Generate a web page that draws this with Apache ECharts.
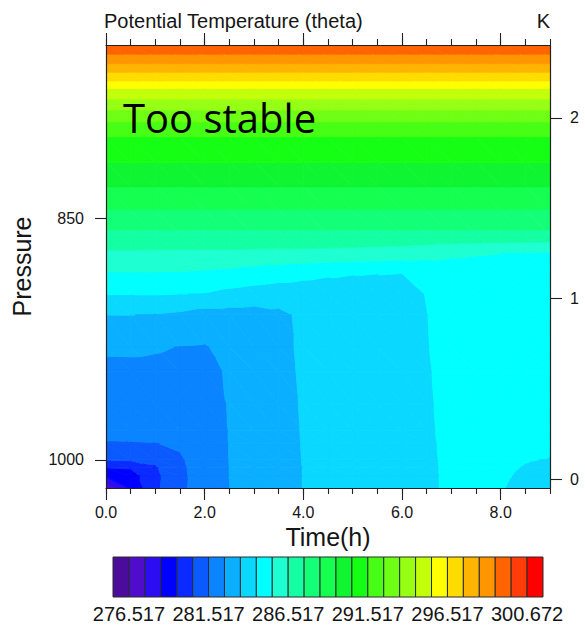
<!DOCTYPE html>
<html>
<head>
<meta charset="utf-8">
<title>Potential Temperature (theta)</title>
<script src="https://cdn.jsdelivr.net/npm/echarts@6/dist/echarts.min.js"></script>
<style>
  html, body { margin: 0; padding: 0; background: #ffffff; }
  #chart { width: 585px; height: 626px; }
</style>
</head>
<body>
<div id="chart"></div>
<script>
// Output times (h)
const times = [0, 0.5, 1, 1.5, 2, 2.5, 3, 3.5, 4, 4.5, 5, 5.5, 6, 6.5, 7, 7.5, 8, 8.5, 9];

// Pressure levels (hPa), from the top of the domain down to the surface
const pressures = [742.5, 750, 760, 770, 780, 790, 800, 815, 830, 845, 860, 872,
                   884, 897, 910, 930, 945, 965, 982, 990, 1000, 1005, 1010, 1017.5];

// Potential temperature (K): one row per pressure level, one value per output time
const theta = [
  [300.45, 300.45, 300.45, 300.45, 300.45, 300.45, 300.45, 300.45, 300.45, 300.45, 300.45, 300.45, 300.45, 300.45, 300.45, 300.45, 300.45, 300.45, 300.45],
  [299.24, 299.24, 299.24, 299.24, 299.24, 299.24, 299.24, 299.24, 299.24, 299.24, 299.24, 299.24, 299.24, 299.24, 299.24, 299.24, 299.24, 299.24, 299.24],
  [297.47, 297.47, 297.47, 297.47, 297.47, 297.47, 297.47, 297.47, 297.47, 297.47, 297.47, 297.47, 297.47, 297.47, 297.47, 297.47, 297.47, 297.47, 297.47],
  [295.48, 295.48, 295.48, 295.48, 295.48, 295.48, 295.48, 295.48, 295.48, 295.48, 295.48, 295.48, 295.48, 295.48, 295.48, 295.48, 295.48, 295.48, 295.48],
  [293.90, 293.90, 293.90, 293.90, 293.90, 293.90, 293.90, 293.90, 293.90, 293.90, 293.90, 293.90, 293.90, 293.90, 293.90, 293.90, 293.90, 293.90, 293.90],
  [292.54, 292.54, 292.54, 292.54, 292.54, 292.54, 292.54, 292.54, 292.54, 292.54, 292.54, 292.54, 292.54, 292.54, 292.54, 292.54, 292.54, 292.54, 292.54],
  [291.49, 291.49, 291.49, 291.49, 291.49, 291.49, 291.49, 291.49, 291.49, 291.49, 291.49, 291.49, 291.49, 291.49, 291.49, 291.49, 291.49, 291.49, 291.49],
  [290.56, 290.56, 290.56, 290.56, 290.56, 290.56, 290.56, 290.56, 290.56, 290.56, 290.56, 290.56, 290.56, 290.56, 290.56, 290.56, 290.56, 290.56, 290.56],
  [289.56, 289.56, 289.56, 289.56, 289.56, 289.56, 289.56, 289.56, 289.56, 289.56, 289.56, 289.56, 289.56, 289.56, 289.56, 289.56, 289.56, 289.56, 289.56],
  [288.51, 288.51, 288.51, 288.51, 288.51, 288.51, 288.51, 288.51, 288.51, 288.51, 288.51, 288.51, 288.51, 288.51, 288.51, 288.51, 288.51, 288.51, 288.51],
  [287.30, 287.30, 287.30, 287.30, 287.30, 287.30, 287.30, 287.30, 287.30, 287.30, 287.30, 287.30, 287.30, 287.30, 287.30, 287.30, 287.30, 287.30, 287.30],
  [286.33, 286.33, 286.32, 286.32, 286.31, 286.30, 286.28, 286.26, 286.24, 286.20, 286.15, 286.08, 286.00, 285.88, 285.70, 285.60, 285.52, 285.42, 285.34],
  [285.50, 285.50, 285.49, 285.45, 285.38, 285.28, 285.12, 284.95, 284.80, 284.65, 284.56, 284.53, 284.52, 284.68, 284.85, 284.92, 284.92, 284.90, 284.87],
  [284.56, 284.56, 284.58, 284.53, 284.49, 284.25, 284.10, 284.00, 284.00, 283.95, 284.10, 284.25, 284.40, 284.53, 284.70, 284.78, 284.80, 284.80, 284.78],
  [283.52, 283.53, 283.46, 283.35, 283.10, 283.10, 283.10, 283.30, 283.70, 283.88, 284.06, 284.22, 284.36, 284.51, 284.66, 284.75, 284.78, 284.78, 284.75],
  [282.65, 282.66, 282.60, 282.49, 282.45, 282.80, 282.95, 283.30, 283.65, 283.86, 284.05, 284.20, 284.35, 284.50, 284.65, 284.74, 284.76, 284.75, 284.72],
  [282.30, 282.31, 282.30, 282.25, 282.30, 282.60, 282.90, 283.28, 283.62, 283.85, 284.05, 284.20, 284.35, 284.48, 284.65, 284.74, 284.76, 284.75, 284.70],
  [281.94, 281.95, 281.97, 281.95, 282.10, 282.57, 282.88, 283.27, 283.58, 283.85, 284.05, 284.20, 284.35, 284.46, 284.65, 284.74, 284.76, 284.75, 284.67],
  [281.68, 281.69, 281.70, 281.72, 281.95, 282.55, 282.87, 283.26, 283.56, 283.84, 284.05, 284.20, 284.34, 284.44, 284.65, 284.74, 284.76, 284.75, 284.64],
  [281.47, 281.48, 281.50, 281.60, 281.88, 282.54, 282.86, 283.26, 283.55, 283.84, 284.05, 284.20, 284.34, 284.42, 284.65, 284.74, 284.76, 284.75, 284.60],
  [280.62, 280.64, 280.72, 281.44, 281.84, 282.53, 282.86, 283.26, 283.54, 283.84, 284.05, 284.20, 284.34, 284.40, 284.65, 284.74, 284.70, 284.55, 284.49],
  [279.52, 279.60, 280.39, 281.40, 281.82, 282.52, 282.85, 283.26, 283.53, 283.84, 284.05, 284.20, 284.34, 284.39, 284.65, 284.74, 284.64, 284.48, 284.40],
  [278.71, 279.05, 280.25, 281.38, 281.81, 282.52, 282.85, 283.26, 283.53, 283.84, 284.05, 284.20, 284.34, 284.38, 284.65, 284.74, 284.60, 284.42, 284.32],
  [276.81, 278.71, 280.30, 281.39, 281.80, 282.51, 282.85, 283.26, 283.53, 283.84, 284.05, 284.20, 284.34, 284.38, 284.65, 284.72, 284.55, 284.36, 284.22]
];

// Contour levels (K)
const levels = [276.517, 277.517, 278.517, 279.517, 280.517, 281.517, 282.517, 283.517,
                284.517, 285.517, 286.517, 287.517, 288.517, 289.517, 290.517, 291.517,
                292.517, 293.517, 294.517, 295.517, 296.517, 297.517, 298.517, 299.517,
                300.517, 300.672];

// Fill colours, one per interval (below the first level ... above the last)
const palette = ['#4b0c9b', '#4f0ccc', '#2c0cf0', '#0000ff', '#0a2aff', '#0a5aff', '#0a84ff',
                 '#0ab0ff', '#0ad8ff', '#00ffff', '#1effd2', '#14ffa4', '#14ff78', '#14ff50',
                 '#10f532', '#14ff14', '#46ff14', '#6eff14', '#96ff14', '#c3ff0a', '#ffff00',
                 '#ffdc00', '#ffb400', '#ff9600', '#ff6400', '#ff3c0a', '#ff0000'];

// Axis ticks
const hourTicks = [0, 2, 4, 6, 8];
const pressureTicks = [850, 1000];
const heightTicks = [0, 1, 2];
// Levels printed under the colour bar (indices into levels)
const labelledLevels = [0, 5, 10, 15, 20, 25];

const FONT = '"Liberation Sans", Arial, Helvetica, sans-serif';
const INK = '#151515';
const FRAME = { color: '#222', width: 1.2 };

// Keep the part of a polygon (points [t, p, value]) on one side of a level
function clipAtLevel(poly, lvl, keepAbove) {
  const out = [];
  for (let a = 0; a < poly.length; a++) {
    const P = poly[a], Q = poly[(a + 1) % poly.length];
    const pIn = keepAbove ? P[2] >= lvl : P[2] <= lvl;
    const qIn = keepAbove ? Q[2] >= lvl : Q[2] <= lvl;
    if (pIn) out.push(P);
    if (pIn !== qIn) {
      const f = (lvl - P[2]) / (Q[2] - P[2]);
      out.push([P[0] + f * (Q[0] - P[0]), P[1] + f * (Q[1] - P[1]), lvl]);
    }
  }
  return out;
}

// Filled contours of one grid cell, split into two triangles
function renderCell(params, api) {
  const i = api.value(2), j = api.value(3);
  const node = (a, b) => [times[a], pressures[b], theta[b][a]];
  const A = node(i, j), B = node(i + 1, j), C = node(i + 1, j + 1), D = node(i, j + 1);
  const children = [];
  [[A, B, C], [A, C, D]].forEach(tri => {
    const vmin = Math.min(tri[0][2], tri[1][2], tri[2][2]);
    const vmax = Math.max(tri[0][2], tri[1][2], tri[2][2]);
    for (let k = 0; k < palette.length; k++) {
      const lo = k === 0 ? -Infinity : levels[k - 1];
      const hi = k === palette.length - 1 ? Infinity : levels[k];
      if (vmax < lo || vmin > hi) continue;
      let poly = tri;
      if (isFinite(lo)) poly = clipAtLevel(poly, lo, true);
      if (poly.length >= 3 && isFinite(hi)) poly = clipAtLevel(poly, hi, false);
      if (poly.length < 3) continue;
      children.push({
        type: 'polygon',
        shape: { points: poly.map(q => api.coord([q[0], q[1]])) },
        style: { fill: palette[k], stroke: palette[k], lineWidth: 0.8, lineJoin: 'round' }
      });
    }
  });
  return { type: 'group', children };
}

// One box of the colour bar
function renderBox(params, api) {
  const k = api.value(0);
  const p0 = api.coord([k, 1]);
  const p1 = api.coord([k + 1, 0]);
  return {
    type: 'rect',
    shape: { x: p0[0], y: p0[1], width: p1[0] - p0[0], height: p1[1] - p0[1] },
    style: { fill: palette[k], stroke: '#2a2a2a', lineWidth: 1 }
  };
}

const cells = [];
for (let j = 0; j < pressures.length - 1; j++) {
  for (let i = 0; i < times.length - 1; i++) {
    cells.push([times[i], pressures[j], i, j]);
  }
}
const boxes = palette.map((c, k) => [k]);

const tickStyle = { color: '#222', width: 1.1 };
const labelStyle = { fontSize: 16, fontFamily: FONT, color: INK };
const frameLine = { show: true, onZero: false, lineStyle: FRAME };
const noLine = { show: false, onZero: false };

const option = {
  animation: false,
  backgroundColor: '#ffffff',
  title: [
    { text: 'Potential Temperature (theta)', left: 104, top: 11, padding: 0,
      textStyle: { fontSize: 20, fontWeight: 'normal', fontFamily: FONT, color: INK } },
    { text: 'K', right: 35, top: 11, padding: 0,
      textStyle: { fontSize: 20, fontWeight: 'normal', fontFamily: FONT, color: INK } },
    { text: 'Too stable', left: 123, top: 97, padding: 0,
      textStyle: { fontSize: 40, fontWeight: 'normal', fontFamily: '"Open Sans", "Noto Sans", sans-serif', color: '#000' } }
  ],
  grid: [
    { left: 106, top: 45, width: 444, height: 443 },
    { left: 113, top: 557, width: 430, height: 40 }
  ],
  xAxis: [
    { gridIndex: 0, type: 'value', position: 'bottom', min: 0, max: 9, z: 5,
      axisLine: frameLine,
      axisTick: { show: true, length: 12, customValues: hourTicks, lineStyle: tickStyle },
      axisLabel: Object.assign({ customValues: hourTicks, margin: 16, formatter: v => v.toFixed(1) }, labelStyle),
      splitLine: { show: false },
      name: 'Time(h)', nameLocation: 'middle', nameGap: 30,
      nameTextStyle: { fontSize: 25, fontFamily: FONT, color: INK } },
    { gridIndex: 0, type: 'value', position: 'bottom', min: 0, max: 9, interval: 0.5, z: 5,
      axisLine: noLine, axisTick: { show: true, length: 6, lineStyle: tickStyle },
      axisLabel: { show: false }, splitLine: { show: false } },
    { gridIndex: 0, type: 'value', position: 'top', min: 0, max: 9, z: 5,
      axisLine: frameLine,
      axisTick: { show: true, length: 12, customValues: hourTicks, lineStyle: tickStyle },
      axisLabel: { show: false }, splitLine: { show: false } },
    { gridIndex: 0, type: 'value', position: 'top', min: 0, max: 9, interval: 0.5, z: 5,
      axisLine: noLine, axisTick: { show: true, length: 6, lineStyle: tickStyle },
      axisLabel: { show: false }, splitLine: { show: false } },
    { gridIndex: 1, type: 'value', min: 0, max: palette.length,
      axisLine: noLine, axisTick: { show: false }, splitLine: { show: false },
      axisLabel: { customValues: labelledLevels.map(n => n + 1), margin: 7,
                   formatter: v => levels[v - 1].toFixed(3),
                   fontSize: 20, fontFamily: FONT, color: INK } }
  ],
  yAxis: [
    { gridIndex: 0, type: 'value', position: 'left', min: 742.5, max: 1017.5, inverse: true, z: 5,
      axisLine: frameLine,
      axisTick: { show: true, length: 11, customValues: pressureTicks, lineStyle: tickStyle },
      axisLabel: Object.assign({ customValues: pressureTicks, margin: 22, formatter: v => String(v) }, labelStyle),
      splitLine: { show: false },
      name: 'Pressure', nameLocation: 'middle', nameGap: 72,
      nameTextStyle: { fontSize: 25, fontFamily: FONT, color: INK } },
    { gridIndex: 0, type: 'value', position: 'right', min: -0.0481, max: 2.4039, z: 5,
      axisLine: frameLine,
      axisTick: { show: true, length: 12, customValues: heightTicks, lineStyle: tickStyle },
      axisLabel: Object.assign({ customValues: heightTicks, margin: 20, formatter: v => String(v) }, labelStyle),
      splitLine: { show: false } },
    { gridIndex: 1, type: 'value', min: 0, max: 1, show: false }
  ],
  series: [
    { type: 'custom', name: 'theta', xAxisIndex: 0, yAxisIndex: 0,
      dimensions: ['time', 'pressure', 'col', 'row'], encode: { x: 0, y: 1 },
      data: cells, renderItem: renderCell, clip: true, silent: true, z: 2 },
    { type: 'custom', name: 'colorbar', xAxisIndex: 4, yAxisIndex: 2,
      data: boxes, renderItem: renderBox, silent: true, z: 2 }
  ]
};

const chart = echarts.init(document.getElementById('chart'), null, { renderer: 'svg', width: 585, height: 626 });
chart.setOption(option);
</script>
</body>
</html>
